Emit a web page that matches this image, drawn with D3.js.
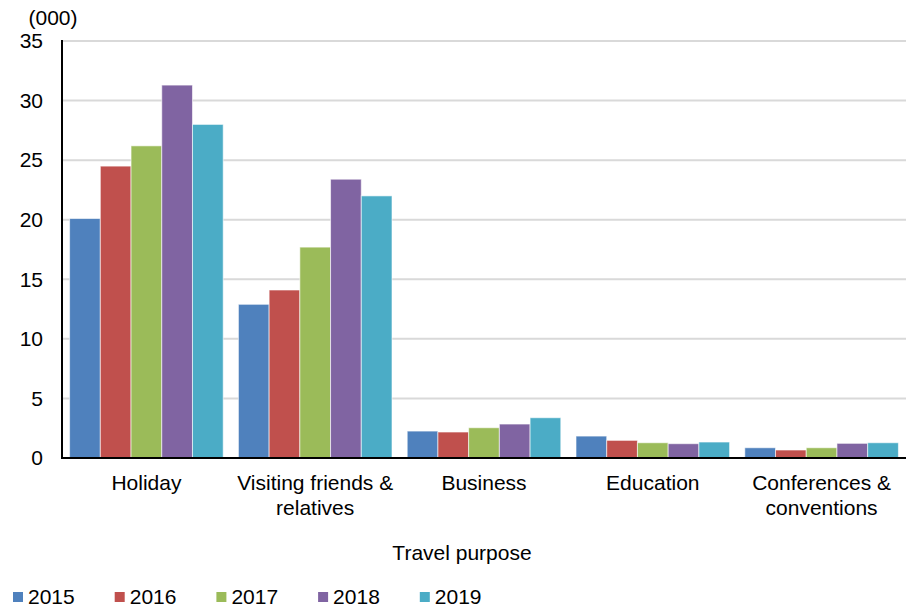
<!DOCTYPE html>
<html><head><meta charset="utf-8">
<script src="https://cdn.jsdelivr.net/npm/d3@7"></script>
<style>
body{margin:0;background:#fff;}
text{font-family:"Liberation Sans",Arial,sans-serif;fill:#000;}
</style></head>
<body><svg id="c" width="912" height="607"></svg>
<script>
const categories = [["Holiday"],["Visiting friends &","relatives"],["Business"],["Education"],["Conferences &","conventions"]];
const years = ["2015","2016","2017","2018","2019"];
const v2015 = [20.1, 12.9, 2.26, 1.84, 0.86];
const v2016 = [24.5, 14.1, 2.18, 1.48, 0.67];
const v2017 = [26.2, 17.7, 2.54, 1.28, 0.86];
const v2018 = [31.3, 23.4, 2.85, 1.20, 1.23];
const v2019 = [28.0, 22.0, 3.38, 1.34, 1.28];
const yTicks = [0,5,10,15,20,25,30,35];
const colors = ["#4F81BD","#C0504D","#9BBB59","#8064A2","#4BACC6"];
const series = [v2015,v2016,v2017,v2018,v2019];

const svg = d3.select("#c");
const L=62, R=906, T=41, B=458;
const catKeys = categories.map(c=>c.join(" "));
const x0 = d3.scaleBand().domain(catKeys).range([L,R]).paddingInner(0).paddingOuter(0);
const x1 = d3.scaleBand().domain(years).range([7.6, x0.bandwidth()-7.6]).padding(0);
const y = d3.scaleLinear().domain([0,35]).range([B,T]);
const FS = 21;

// gridlines
svg.append("g").selectAll("line").data(yTicks.filter(d=>d>0)).join("line")
  .attr("x1",L).attr("x2",R).attr("y1",d=>y(d)).attr("y2",d=>y(d))
  .attr("stroke","#d9d9d9").attr("stroke-width",2);

// y axis
const yAxis = d3.axisLeft(y).tickValues(yTicks).tickSize(0).tickPadding(19);
const gy = svg.append("g").attr("transform",`translate(${L},0)`).call(yAxis);
gy.select(".domain").remove();
gy.selectAll("text").style("font-size",FS+"px").attr("font-family","Liberation Sans, Arial, sans-serif").attr("fill","#000");

// bars
const groups = svg.append("g").selectAll("g").data(catKeys).join("g")
  .attr("transform",d=>`translate(${x0(d)},0)`);
groups.selectAll("rect").data((d,i)=>series.map((s,j)=>({yr:years[j],v:s[i],c:colors[j]}))).join("rect")
  .attr("x",d=>x1(d.yr)).attr("width",x1.bandwidth())
  .attr("y",d=>y(d.v)).attr("height",d=>B-y(d.v))
  .attr("fill",d=>d.c).attr("stroke","#ffffff").attr("stroke-opacity",0.6).attr("stroke-width",1);

// axis lines
svg.append("line").attr("x1",L).attr("x2",L).attr("y1",T-1).attr("y2",B+1).attr("stroke","#000").attr("stroke-width",2);
const xAxis = d3.axisBottom(x0).tickSize(0).tickFormat("");
const gx = svg.append("g").attr("transform",`translate(0,${B})`).call(xAxis);
gx.select(".domain").attr("stroke","#000").attr("stroke-width",2).attr("d",`M${L},0H${R}`);

// category labels
categories.forEach((lines,i)=>{
  const cx = x0(catKeys[i]) + x0.bandwidth()/2;
  const t = svg.append("text").attr("text-anchor","middle").style("font-size",FS+"px");
  lines.forEach((ln,k)=>t.append("tspan").attr("x",cx).attr("y",490+k*25).text(ln));
});

// axis titles
svg.append("text").attr("x",53).attr("y",25).attr("text-anchor","middle").style("font-size",FS+"px").text("(000)");
svg.append("text").attr("x",462).attr("y",560).attr("text-anchor","middle").style("font-size",FS+"px").text("Travel purpose");

// legend
const leg = svg.append("g").selectAll("g").data(years).join("g")
  .attr("transform",(d,i)=>`translate(${13+i*101.7},0)`);
leg.append("rect").attr("x",0).attr("y",592).attr("width",10).attr("height",10).attr("fill",(d,i)=>colors[i]);
leg.append("text").attr("x",15).attr("y",604).style("font-size",FS+"px").text(d=>d);
</script></body></html>
